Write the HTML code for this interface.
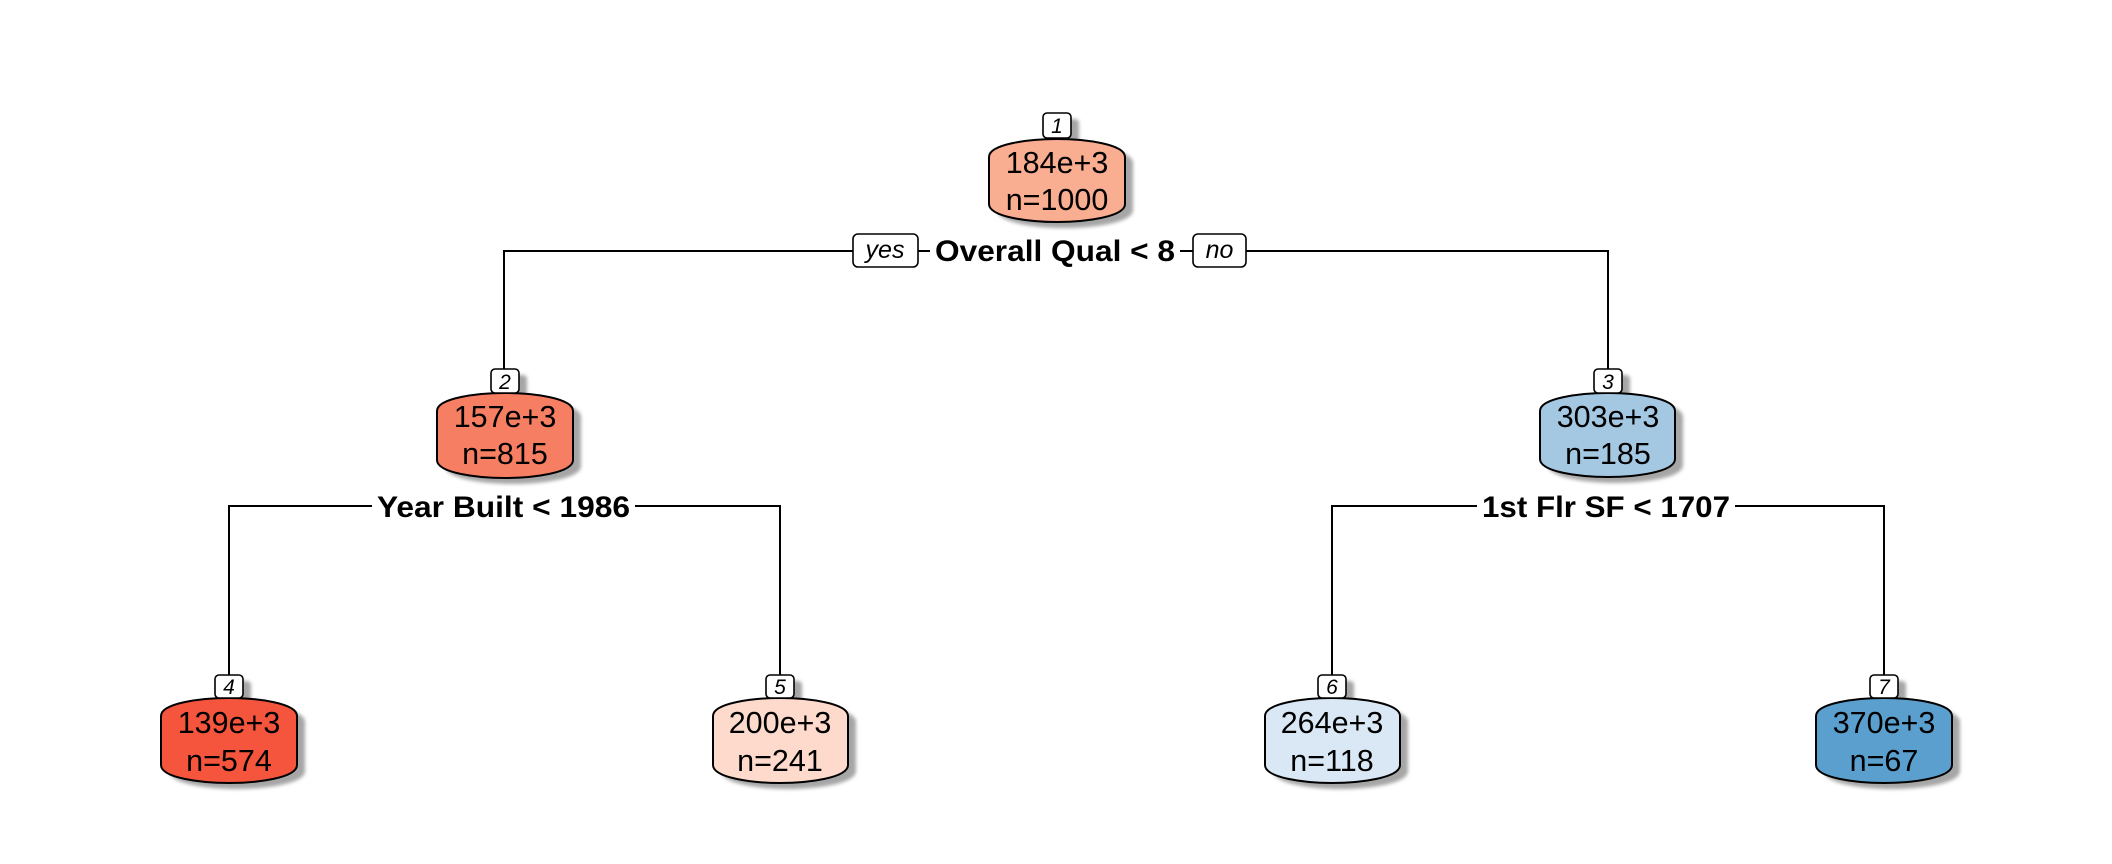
<!DOCTYPE html>
<html>
<head>
<meta charset="utf-8">
<style>
  html, body { margin:0; padding:0; background:#fff; }
  svg { display:block; }
  .t { font-family:"Liberation Sans", Arial, sans-serif; }
</style>
</head>
<body>
<svg width="2112" height="864" viewBox="0 0 2112 864" xmlns="http://www.w3.org/2000/svg">
  <defs>
    <filter id="blur" x="-20%" y="-20%" width="140%" height="140%">
      <feGaussianBlur stdDeviation="1.8"/>
    </filter>
  </defs>
  <rect width="2112" height="864" fill="#fff"/>

  <!-- connectors -->
  <g stroke="#000" stroke-width="2" fill="none">
    <polyline points="504,369 504,251 853,251"/>
    <line x1="918" y1="251" x2="930" y2="251"/>
    <line x1="1180" y1="251" x2="1193" y2="251"/>
    <polyline points="1246,251 1608,251 1608,369"/>

    <polyline points="229,675 229,506 372,506"/>
    <polyline points="635,506 780,506 780,675"/>

    <polyline points="1332,675 1332,506 1477,506"/>
    <polyline points="1735,506 1884,506 1884,675"/>
  </g>

  <!-- shadows -->
  <g fill="#a6a6a6" filter="url(#blur)">
    <!-- node 1 -->
    <g transform="translate(8,6)">
      <rect x="1043" y="113" width="28" height="25" rx="4"/>
      <path d="M989,157 C989,144 1029,139 1057,139 C1085,139 1125,144 1125,157 L1125,204 C1125,217 1085,222 1057,222 C1029,222 989,217 989,204 Z"/>
      <rect x="491" y="369" width="28" height="24" rx="4"/>
      <path d="M437,411 C437,398 477,393 505,393 C533,393 573,398 573,411 L573,460 C573,473 533,478 505,478 C477,478 437,473 437,460 Z"/>
      <rect x="1594" y="369" width="28" height="24" rx="4"/>
      <path d="M1540,411 C1540,398 1580,393 1608,393 C1636,393 1675,398 1675,411 L1675,459 C1675,472 1636,477 1608,477 C1580,477 1540,472 1540,459 Z"/>
      <rect x="215" y="675" width="28" height="23" rx="4"/>
      <path d="M161,716 C161,703 201,698 229,698 C257,698 297,703 297,716 L297,765 C297,778 257,783 229,783 C201,783 161,778 161,765 Z"/>
      <rect x="766" y="675" width="28" height="23" rx="4"/>
      <path d="M713,716 C713,703 753,698 780,698 C808,698 848,703 848,716 L848,765 C848,778 808,783 780,783 C753,783 713,778 713,765 Z"/>
      <rect x="1318" y="675" width="28" height="23" rx="4"/>
      <path d="M1265,716 C1265,703 1305,698 1332,698 C1360,698 1400,703 1400,716 L1400,765 C1400,778 1360,783 1332,783 C1305,783 1265,778 1265,765 Z"/>
      <rect x="1870" y="675" width="28" height="23" rx="4"/>
      <path d="M1816,716 C1816,703 1856,698 1884,698 C1912,698 1952,703 1952,716 L1952,765 C1952,778 1912,783 1884,783 C1856,783 1816,778 1816,765 Z"/>
    </g>
  </g>

  <!-- node bodies -->
  <g stroke="#000" stroke-width="2">
    <path fill="#F9AD91" d="M989,157 C989,144 1029,139 1057,139 C1085,139 1125,144 1125,157 L1125,204 C1125,217 1085,222 1057,222 C1029,222 989,217 989,204 Z"/>
    <path fill="#F67F63" d="M437,411 C437,398 477,393 505,393 C533,393 573,398 573,411 L573,460 C573,473 533,478 505,478 C477,478 437,473 437,460 Z"/>
    <path fill="#A5C8E2" d="M1540,411 C1540,398 1580,393 1608,393 C1636,393 1675,398 1675,411 L1675,459 C1675,472 1636,477 1608,477 C1580,477 1540,472 1540,459 Z"/>
    <path fill="#F5553D" d="M161,716 C161,703 201,698 229,698 C257,698 297,703 297,716 L297,765 C297,778 257,783 229,783 C201,783 161,778 161,765 Z"/>
    <path fill="#FDDACB" d="M713,716 C713,703 753,698 780,698 C808,698 848,703 848,716 L848,765 C848,778 808,783 780,783 C753,783 713,778 713,765 Z"/>
    <path fill="#DAE8F5" d="M1265,716 C1265,703 1305,698 1332,698 C1360,698 1400,703 1400,716 L1400,765 C1400,778 1360,783 1332,783 C1305,783 1265,778 1265,765 Z"/>
    <path fill="#5A9FCE" d="M1816,716 C1816,703 1856,698 1884,698 C1912,698 1952,703 1952,716 L1952,765 C1952,778 1912,783 1884,783 C1856,783 1816,778 1816,765 Z"/>
  </g>

  <!-- node number labels -->
  <g stroke="#000" stroke-width="1.6" fill="#fff">
    <rect x="1043" y="113" width="28" height="25" rx="4"/>
    <rect x="491" y="369" width="28" height="24" rx="4"/>
    <rect x="1594" y="369" width="28" height="24" rx="4"/>
    <rect x="215" y="675" width="28" height="23" rx="4"/>
    <rect x="766" y="675" width="28" height="23" rx="4"/>
    <rect x="1318" y="675" width="28" height="23" rx="4"/>
    <rect x="1870" y="675" width="28" height="23" rx="4"/>
  </g>
  <g class="t" font-size="21" font-style="italic" text-anchor="middle" fill="#000">
    <text x="1057" y="133">1</text>
    <text x="505" y="389">2</text>
    <text x="1608" y="389">3</text>
    <text x="229" y="694">4</text>
    <text x="780" y="694">5</text>
    <text x="1332" y="694">6</text>
    <text x="1884" y="694">7</text>
  </g>

  <!-- node text -->
  <g class="t" font-size="30.5" text-anchor="middle" fill="#000">
    <text x="1057" y="173">184e+3</text>
    <text x="1057" y="210">n=1000</text>
    <text x="505" y="427">157e+3</text>
    <text x="505" y="464">n=815</text>
    <text x="1608" y="427">303e+3</text>
    <text x="1608" y="464">n=185</text>
    <text x="229" y="733">139e+3</text>
    <text x="229" y="771">n=574</text>
    <text x="780" y="733">200e+3</text>
    <text x="780" y="771">n=241</text>
    <text x="1332" y="733">264e+3</text>
    <text x="1332" y="771">n=118</text>
    <text x="1884" y="733">370e+3</text>
    <text x="1884" y="771">n=67</text>
  </g>

  <!-- yes / no boxes -->
  <g stroke="#000" stroke-width="1.6" fill="#fff">
    <rect x="853" y="234" width="65" height="33" rx="5"/>
    <rect x="1193" y="234" width="53" height="33" rx="5"/>
  </g>
  <g class="t" font-size="25" font-style="italic" text-anchor="middle" fill="#000">
    <text x="885" y="258">yes</text>
    <text x="1219.5" y="258">no</text>
  </g>

  <!-- split labels -->
  <g class="t" font-size="30" font-weight="bold" text-anchor="middle" fill="#000">
    <text x="1055" y="261" textLength="240" lengthAdjust="spacingAndGlyphs">Overall Qual &lt; 8</text>
    <text x="503.5" y="517" textLength="253" lengthAdjust="spacingAndGlyphs">Year Built &lt; 1986</text>
    <text x="1606" y="517" textLength="248" lengthAdjust="spacingAndGlyphs">1st Flr SF &lt; 1707</text>
  </g>
</svg>
</body>
</html>
